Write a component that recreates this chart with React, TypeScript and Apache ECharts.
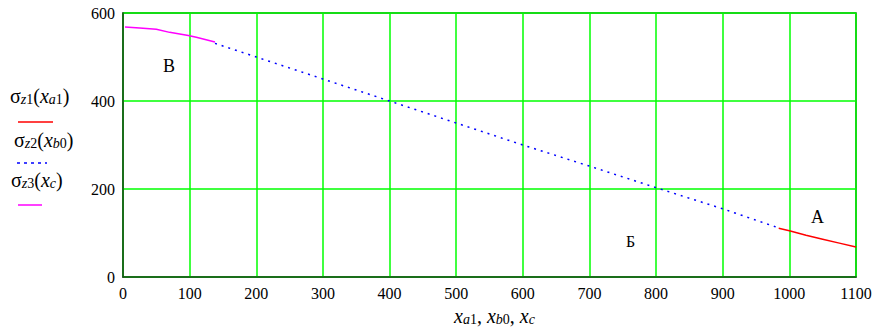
import React, { useEffect, useRef } from "react";
import * as echarts from "echarts";

const xTicks = [0, 100, 200, 300, 400, 500, 600, 700, 800, 900, 1000, 1100];
const yTicks = [0, 200, 400, 600];

const sz1X = [984, 1000, 1025, 1050, 1075, 1100];
const sz1Y = [111, 105, 95, 86, 77, 68];

const sz2X = [138, 200, 300, 400, 500, 600, 700, 800, 900, 985];
const sz2Y = [531, 500, 450, 400, 350, 300, 252, 203, 155, 111];

const sz3X = [3, 25, 50, 70, 98, 110, 138];
const sz3Y = [568, 566, 563, 556, 549, 545, 534];

const pointLabels = ["В", "Б", "А"];

const FONT = "Liberation Serif, Times New Roman, serif";

function pairs(xs: number[], ys: number[]) {
  return xs.map((x, i) => [x, ys[i]]);
}

export default function App() {
  const ref = useRef<HTMLDivElement>(null);
  useEffect(() => {
    if (!ref.current) return;
    const chart = echarts.init(ref.current, undefined, { renderer: "svg" });
    const rich = {
      m: { fontFamily: FONT, fontSize: 20, color: "#000", lineHeight: 26, verticalAlign: "bottom" as const },
      i: { fontFamily: FONT, fontSize: 20, fontStyle: "italic" as const, color: "#000", lineHeight: 26, verticalAlign: "bottom" as const },
      s: { fontFamily: FONT, fontSize: 14, fontStyle: "italic" as const, color: "#000", lineHeight: 20, verticalAlign: "bottom" as const },
      sn: { fontFamily: FONT, fontSize: 14, color: "#000", lineHeight: 20, verticalAlign: "bottom" as const },
    };
    chart.setOption({
      animation: false,
      backgroundColor: "#fff",
      textStyle: { fontFamily: FONT },
      grid: {
        left: 123,
        top: 13,
        right: 20,
        bottom: 58,
        show: true,
        borderColor: "#1d4a1d",
        borderWidth: 1.5,
      },
      xAxis: {
        type: "value",
        min: xTicks[0],
        max: xTicks[xTicks.length - 1],
        interval: 100,
        axisLine: { show: true, lineStyle: { color: "#1d4a1d", width: 1.5 } },
        axisTick: { show: false },
        axisLabel: { color: "#000", fontFamily: FONT, fontSize: 16, margin: 8, formatter: (v: number) => String(v) },
        splitLine: { show: true, lineStyle: { color: "#00ff00", width: 1.5 } },
      },
      yAxis: {
        type: "value",
        min: yTicks[0],
        max: yTicks[yTicks.length - 1],
        interval: 200,
        axisLine: { show: true, lineStyle: { color: "#1d4a1d", width: 1.5 } },
        axisTick: { show: false },
        axisLabel: { color: "#000", fontFamily: FONT, fontSize: 16, margin: 8, formatter: (v: number) => String(v) },
        splitLine: { show: true, lineStyle: { color: "#00ff00", width: 1.5 } },
      },
      series: [
        {
          type: "line",
          name: "sz2",
          data: pairs(sz2X, sz2Y),
          showSymbol: false,
          lineStyle: { color: "#0000ff", width: 1.5, type: [2, 5] },
          z: 3,
        },
        {
          type: "line",
          name: "sz1",
          data: pairs(sz1X, sz1Y),
          showSymbol: false,
          lineStyle: { color: "#ff0000", width: 1.5 },
          z: 4,
        },
        {
          type: "line",
          name: "sz3",
          data: pairs(sz3X, sz3Y),
          showSymbol: false,
          lineStyle: { color: "#ff00ff", width: 1.5 },
          z: 4,
        },
      ],
      graphic: [
        { type: "text", left: 10, top: 86, style: { text: "{m|σ}{s|z}{sn|1}{m|(}{i|x}{s|a}{sn|1}{m|)}", rich } },
        { type: "line", shape: { x1: 18, y1: 122, x2: 53, y2: 122 }, style: { stroke: "#ff0000", lineWidth: 1.5 } },
        { type: "text", left: 14, top: 130, style: { text: "{m|σ}{s|z}{sn|2}{m|(}{i|x}{s|b}{sn|0}{m|)}", rich } },
        { type: "line", shape: { x1: 17, y1: 163, x2: 47, y2: 163 }, style: { stroke: "#0000ff", lineWidth: 1.5, lineDash: [3, 4] } },
        { type: "text", left: 11, top: 170, style: { text: "{m|σ}{s|z}{sn|3}{m|(}{i|x}{s|c}{m|)}", rich } },
        { type: "line", shape: { x1: 18, y1: 205, x2: 42, y2: 205 }, style: { stroke: "#ff00ff", lineWidth: 1.5 } },
        { type: "text", left: 163, top: 57, style: { text: pointLabels[0], fontFamily: FONT, fontSize: 18, fill: "#000" } },
        { type: "text", left: 626, top: 233, style: { text: pointLabels[1], fontFamily: FONT, fontSize: 16, fill: "#000" } },
        { type: "text", left: 811, top: 208, style: { text: pointLabels[2], fontFamily: FONT, fontSize: 18, fill: "#000" } },
        { type: "text", left: 454, top: 306, style: { text: "{i|x}{s|a}{sn|1}{m|, }{i|x}{s|b}{sn|0}{m|, }{i|x}{s|c}", rich } },
      ],
    });
    return () => chart.dispose();
  }, []);
  return <div ref={ref} style={{ width: 876, height: 335, position: "absolute", left: 0, top: 0 }} />;
}
